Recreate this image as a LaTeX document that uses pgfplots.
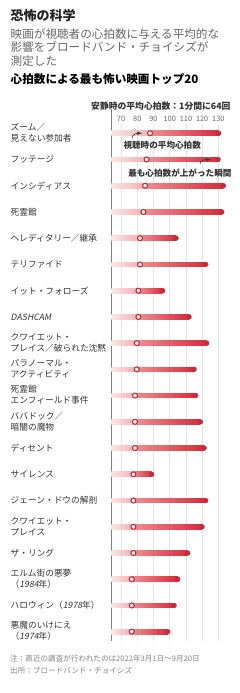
\documentclass[border=0pt]{standalone}
\usepackage{pgfplots}
\pgfplotsset{compat=1.18}
\usepackage{fontspec}
\setmainfont{Noto Sans CJK JP}
\newfontfamily\cjkit[FakeSlant=0.2]{Noto Sans CJK JP}
\definecolor{titlec}{HTML}{222222}
\definecolor{subc}{HTML}{666666}
\definecolor{labc}{HTML}{333333}
\definecolor{gridc}{HTML}{E4E4E4}
\definecolor{axc}{HTML}{808080}
\definecolor{pinkA}{HTML}{FCE6E6}
\definecolor{pinkB}{HTML}{F4AEB0}
\definecolor{redA}{HTML}{F08D90}
\definecolor{redB}{HTML}{D62C3B}
\definecolor{dotc}{HTML}{C62A3B}
\newcommand\rowbar[3]{%
  \pgfmathsetmacro\ylo{#1-0.09}%
  \pgfmathsetmacro\yhi{#1+0.09}%
  \addplot[draw=none, left color=pinkA, right color=pinkB, forget plot]
    coordinates {(64,\ylo) (#2,\ylo) (#2,\yhi) (64,\yhi)} -- cycle;
  \addplot[draw=none, left color=redA, right color=redB, forget plot]
    coordinates {(#2,\ylo) (#3,\ylo) (#3,\yhi) (#2,\yhi)} -- cycle;
}
\begin{document}
\begin{tikzpicture}
\path (0,0) rectangle (240pt,-693pt);
% headings
\node[anchor=west, inner sep=0pt, font=\bfseries\fontsize{13}{15}\selectfont, text=titlec] at (10.5pt,-15.7pt) {恐怖の科学};
\node[anchor=north west, inner sep=0pt, align=left, font=\fontsize{11.6}{13.4}\selectfont, text=subc] at (10.5pt,-28.5pt) {映画が視聴者の心拍数に与える平均的な\\影響をブロードバンド・チョイシズが\\測定した};
\node[anchor=west, inner sep=0pt, font=\bfseries\fontsize{11.6}{13}\selectfont, text=black] at (10.5pt,-79pt) {心拍数による最も怖い映画トップ20};
\node[anchor=east, inner sep=0pt, font=\bfseries\fontsize{8.8}{10}\selectfont, text=labc] at (230.7pt,-106pt) {安静時の平均心拍数：1分間に64回};
% footnotes
\node[anchor=west, inner sep=0pt, font=\fontsize{7.6}{9}\selectfont, text=subc!80] at (10pt,-658.3pt) {注：直近の調査が行われたのは2022年3月1日～9月20日};
\node[anchor=west, inner sep=0pt, font=\fontsize{7.6}{9}\selectfont, text=subc!80] at (10pt,-670.5pt) {出所：ブロードバンド・チョイシズ};
\begin{axis}[
  at={(111.3pt,-124.2pt)}, anchor=north west,
  width=113.6pt, height=516.8pt, scale only axis,
  xmin=64, xmax=134, ymin=0.655, ymax=20.355, y dir=reverse,
  axis line style={draw=none},
  xtick={70,80,...,130}, xticklabel pos=upper,
  major tick length=0pt, ytick=\empty,
  xmajorgrids, grid style={gridc, line width=0.6pt},
  tick label style={font=\fontsize{7.4}{8}\selectfont, text=subc},
  xticklabel style={yshift=-1pt},
  /pgf/number format/assume math mode=true,
  clip=false,
]
\draw[axc, line width=1.2pt] (axis cs:64,0.09) -- (axis cs:64,20.355);
\rowbar{1}{87.9}{130.2}
\rowbar{2}{85.8}{129.8}
\rowbar{3}{84.8}{133.1}
\rowbar{4}{83.8}{132.1}
\rowbar{5}{81.7}{103.9}
\rowbar{6}{81.7}{122.2}
\rowbar{7}{80.7}{95.7}
\rowbar{8}{80.7}{111.9}
\rowbar{9}{79.7}{122.8}
\rowbar{10}{79.7}{115.0}
\rowbar{11}{78.6}{116.0}
\rowbar{12}{78.6}{118.9}
\rowbar{13}{78.6}{121.2}
\rowbar{14}{77.6}{88.9}
\rowbar{15}{77.6}{122.2}
\rowbar{16}{77.6}{119.9}
\rowbar{17}{77.6}{111.1}
\rowbar{18}{76.6}{105.0}
\rowbar{19}{76.6}{102.7}
\rowbar{20}{76.6}{98.8}
% max dots
\addplot[only marks, mark=*, mark size=2.4pt, mark options={fill=dotc, draw=dotc}] coordinates {
(130.2,1) (129.8,2) (133.1,3) (132.1,4) (103.9,5) (122.2,6) (95.7,7) (111.9,8) (122.8,9) (115.0,10)
(116.0,11) (118.9,12) (121.2,13) (88.9,14) (122.2,15) (119.9,16) (111.1,17) (105.0,18) (102.7,19) (98.8,20)};
% average dots
\addplot[only marks, mark=*, mark size=2.5pt, mark options={fill=white, draw=dotc, line width=1.1pt}] coordinates {
(87.9,1) (85.8,2) (84.8,3) (83.8,4) (81.7,5) (81.7,6) (80.7,7) (80.7,8) (79.7,9) (79.7,10)
(78.6,11) (78.6,12) (78.6,13) (77.6,14) (77.6,15) (77.6,16) (77.6,17) (76.6,18) (76.6,19) (76.6,20)};
% category labels
\begin{scope}[every node/.style={anchor=west, inner sep=0pt, align=left, font=\fontsize{8.7}{11}\selectfont, text=labc}]
\node at (axis cs:64,1) [xshift=-100.8pt, yshift=0.5pt] {ズーム／\\見えない参加者};
\node at (axis cs:64,2) [xshift=-100.8pt] {フッテージ};
\node at (axis cs:64,3) [xshift=-100.8pt] {インシディアス};
\node at (axis cs:64,4) [xshift=-100.8pt] {死霊館};
\node at (axis cs:64,5) [xshift=-100.8pt] {ヘレディタリー／継承};
\node at (axis cs:64,6) [xshift=-100.8pt] {テリファイド};
\node at (axis cs:64,7) [xshift=-100.8pt] {イット・フォローズ};
\node at (axis cs:64,8) [xshift=-100.8pt] {\cjkit DASHCAM};
\node at (axis cs:64,9) [xshift=-100.8pt, yshift=0.5pt] {クワイエット・\\プレイス／破られた沈黙};
\node at (axis cs:64,10) [xshift=-100.8pt, yshift=0.5pt] {パラノーマル・\\アクティビティ};
\node at (axis cs:64,11) [xshift=-100.8pt, yshift=0.5pt] {死霊館\\エンフィールド事件};
\node at (axis cs:64,12) [xshift=-100.8pt, yshift=0.5pt] {ババドック／\\暗闇の魔物};
\node at (axis cs:64,13) [xshift=-100.8pt] {ディセント};
\node at (axis cs:64,14) [xshift=-100.8pt] {サイレンス};
\node at (axis cs:64,15) [xshift=-100.8pt] {ジェーン・ドウの解剖};
\node at (axis cs:64,16) [xshift=-100.8pt, yshift=0.5pt] {クワイエット・\\プレイス};
\node at (axis cs:64,17) [xshift=-100.8pt] {ザ・リング};
\node at (axis cs:64,18) [xshift=-100.8pt, yshift=0.5pt] {エルム街の悪夢\\（{\cjkit 1984}年）};
\node at (axis cs:64,19) [xshift=-100.8pt] {ハロウィン（{\cjkit 1978}年）};
\node at (axis cs:64,20) [xshift=-100.8pt, yshift=0.5pt] {悪魔のいけにえ\\（{\cjkit 1974}年）};
\end{scope}
% annotations
\node[anchor=west, inner sep=0pt, font=\bfseries\fontsize{8.6}{10}\selectfont, text=labc] at (axis cs:70,1) [xshift=2.3pt, yshift=-11.7pt] {視聴時の平均心拍数};
\node[anchor=east, inner sep=0pt, font=\bfseries\fontsize{8.6}{10}\selectfont, text=labc] at (axis cs:134,2) [xshift=6.8pt, yshift=-13.4pt] {最も心拍数が上がった瞬間};
\draw[-latex, labc, line width=0.6pt] (axis cs:70,1) ++(11pt,-5pt) to[out=90, in=180] ++(10pt,5pt);
\draw[-latex, labc, line width=0.6pt] (axis cs:130,2) ++(-18.5pt,-4.5pt) to[out=90, in=180] ++(11pt,4.3pt);
\end{axis}
\pgfresetboundingbox
\useasboundingbox (0,0) rectangle (240pt,-693pt);
\end{tikzpicture}
\end{document}
